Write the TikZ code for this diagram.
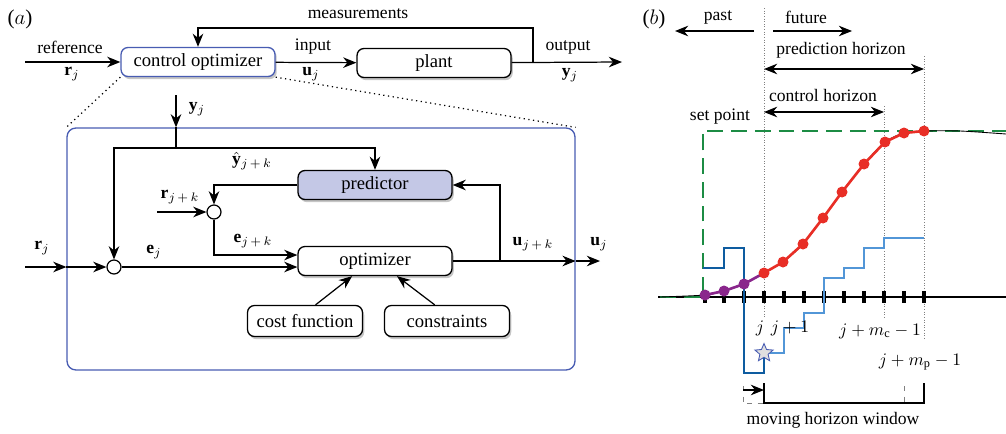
\documentclass[tikz,border=0pt]{standalone}
\usepackage{fontspec}
\setmainfont{Liberation Serif}
\usetikzlibrary{arrows.meta, positioning, shadows, shapes.geometric}

\definecolor{boxblue}{RGB}{72,92,178}
\definecolor{predfill}{RGB}{196,200,230}
\definecolor{setgreen}{RGB}{28,140,68}
\definecolor{predred}{RGB}{232,46,38}
\definecolor{pastpurple}{RGB}{138,38,140}
\definecolor{pastblue}{RGB}{14,92,160}
\definecolor{futblue}{RGB}{82,150,215}

\begin{document}
\begin{tikzpicture}[
    x=0.02cm, y=-0.02cm,
    line width=0.7pt,
    >={Stealth[length=7.5pt, width=6pt, inset=2.4pt]},
    block/.style={draw, line width=0.75pt, rounded corners=4pt, fill=white,
        minimum width=3.08cm, minimum height=0.58cm, inner sep=1pt,
        font=\fontsize{10.6}{12}\selectfont,
        drop shadow={shadow xshift=1pt, shadow yshift=-1.5pt, opacity=0.45}},
    small/.style={minimum width=2.3cm, minimum height=0.62cm},
    sum/.style={draw, circle, fill=white, minimum size=0.28cm, inner sep=0pt},
    lbl/.style={inner sep=1pt},
    tick/.style={line width=1.8pt},
    guide/.style={densely dotted, gray, line width=0.5pt}
]
\useasboundingbox (0,0) rectangle (1006,433);

% ---- (a) block diagram
\node[lbl] (tagA) at (20,19) {\large ($a$)};

\node[block, draw=boxblue, drop shadow={opacity=0}] (ctrl) at (198,62) {control optimizer};
\node[block] (plant) at (434,63) {plant};
\node[draw=boxblue, line width=0.75pt, rounded corners=5pt, minimum width=10.16cm,
      minimum height=4.84cm] (mpc) at (321,249) {};
\node[block, fill=predfill] (pred) at (375,185) {predictor};
\node[block] (opt) at (375,261) {optimizer};
\node[block, small] (cost) at (305,321) {cost function};
\node[block, small, minimum width=2.5cm] (cons) at (447,321) {constraints};
\node[sum] (sumj) at (114,267) {};
\node[sum] (sumk) at (214,212) {};

\coordinate (refin) at (25,62);
\coordinate (outend) at (622,62);
\coordinate (meas) at (533,62);
\coordinate (mtop) at (533,28);
\coordinate (yin) at (176,95);
\coordinate (split) at (176,148);
\coordinate (rkin) at (157,212);
\coordinate (rjin) at (25,267);
\coordinate (ubr) at (500,261);
\coordinate (uout) at (600,261);

\draw[->] (refin) -- (ctrl);
\draw[->] (ctrl) -- (plant);
\draw[->] (plant) -- (outend);
\draw[->] (meas) -- (mtop) -| (ctrl);
\draw[dotted] (ctrl.south west) -- (mpc.north west);
\draw[dotted] (ctrl.south east) -- (mpc.north east);

\draw[->] (yin) -- (yin |- mpc.north);
\draw (yin |- mpc.north) -- (split);
\draw[->] (split) -| (sumj);
\draw[->] (split) -| (pred);
\draw[->] (pred.west) -| (sumk);
\draw[->] (rkin) -- (sumk);
\draw[->] (sumk) |- ([yshift=3.4pt]opt.west);
\draw[->] (rjin) -- (rjin -| mpc.west);
\draw[->] (rjin -| mpc.west) -- (sumj);
\draw[->] (sumj) -- (sumj -| opt.west);
\draw[->] (opt.east) -- (opt.east -| mpc.east);
\draw[->] (opt.east -| mpc.east) -- (uout);
\draw[->] (ubr) |- (pred.east);
\draw[->] ([xshift=6pt]cost.north) -- ([xshift=-13pt]opt.south);
\draw[->] ([xshift=-7pt]cons.north) -- ([xshift=12.5pt]opt.south);

\node[lbl] (lref) at (70,47) {reference};
\node[lbl] (lrj) at (72,74) {$\mathbf{r}_j$};
\node[lbl] (lin) at (313,47) {input};
\node[lbl] (luj) at (311,74) {$\mathbf{u}_j$};
\node[lbl] (lout) at (568,47) {output};
\node[lbl] (lyj) at (570,75) {$\mathbf{y}_j$};
\node[lbl] (lmeas) at (358,14) {measurements};
\node[lbl] (lyin) at (197,109) {$\mathbf{y}_j$};
\node[lbl] (lyhat) at (252,161) {$\hat{\mathbf{y}}_{j\,+\,k}$};
\node[lbl] (lrk) at (180,197) {$\mathbf{r}_{j\,+\,k}$};
\node[lbl] (lek) at (253,241) {$\mathbf{e}_{j\,+\,k}$};
\node[lbl] (lrjin) at (42,248) {$\mathbf{r}_j$};
\node[lbl] (lej) at (154,252) {$\mathbf{e}_j$};
\node[lbl] (luk) at (533,244) {$\mathbf{u}_{j\,+\,k}$};
\node[lbl] (luout) at (599,244) {$\mathbf{u}_j$};

% ---- (b) moving horizon
\node[lbl] (tagB) at (654,19) {\large ($b$)};

\draw[guide] (764,8) -- (764,318);
\draw[guide] (884,106) -- (884,317);
\draw[guide] (924,56) -- (924,340);

\draw[->] (754,31) -- (675,31);
\draw[->] (773,31) -- (852,31);
\node[lbl] (lpast) at (718,17) {past};
\node[lbl] (lfut) at (806,17) {future};
\draw[<->] (764,69) -- (924,69);
\node[lbl] (lph) at (841,50) {prediction horizon};
\draw[<->] (764,112) -- (884,112);
\node[lbl] (lch) at (823,95) {control horizon};
\node[lbl] (lset) at (720,117) {set point};

\draw (658,297) -- (1006,297);
\foreach \t in {705,724,744,764,784,804,824,844,864,884,904,924}
    \draw[tick] (\t,291) -- ++(0,12);

\draw[setgreen, line width=1.5pt, dash pattern=on 9pt off 4.5pt]
    (660,297) -- (703,297) -- (703,131) -- (1006,131);
\draw[line width=0.5pt] plot[smooth] coordinates {(660,297) (705,295) (724,291)
    (744,284) (764,273) (783,262) (803,244) (823,218) (842,192) (864,164)
    (885,142) (904,133) (924,131) (960,131) (1006,134)};

\draw[pastblue, line width=1.5pt] (703,268) -- (724,268) -- (724,248) -- (744,248)
    -- (744,373) -- (764,373) -- (764,353);
\draw[futblue, line width=1.5pt] (764,353) -- (784,353) -- (784,328) -- (804,328)
    -- (804,313) -- (824,313) -- (824,278) -- (844,278) -- (844,268) -- (864,268)
    -- (864,248) -- (884,248) -- (884,238) -- (924,238);

\draw[pastpurple, line width=1.5pt] (705,295) -- (724,291) -- (744,284) -- (764,273);
\foreach \px/\py in {705/295, 724/291, 744/284}
    \fill[pastpurple] (\px,\py) circle[radius=5.5];
\draw[predred, line width=1.5pt] (764,273) -- (783,262) -- (803,244) -- (823,218)
    -- (842,192) -- (864,164) -- (885,142) -- (904,133) -- (924,131);
\foreach \px/\py in {764/273, 783/262, 803/244, 823/218, 842/192, 864/164,
    885/142, 904/133, 924/131}
    \fill[predred] (\px,\py) circle[radius=5.5];

\node[star, star points=5, star point ratio=2.2, draw=boxblue, fill=gray!25,
      line width=0.5pt, minimum size=0.38cm, inner sep=0pt] (now) at (764,353) {};

\node[lbl] (lj) at (760,328) {$j$};
\node[lbl] (lj1) at (790,328) {$j+1$};
\node[lbl] (lmc) at (880,331) {$j+m_{\mathrm{c}}-1$};
\node[lbl] (lmp) at (920,362) {$j+m_{\mathrm{p}}-1$};

\draw[gray, dashed, line width=0.5pt] (743,386) -- (743,403) -- (764,403);
\draw[gray, dashed, line width=0.5pt] (904,386) -- (904,403);
\draw[->] (743,390) -- (764,390);
\draw (764,383) -- (764,403) -- (924,403) -- (924,383);
\node[lbl] (lwin) at (833,420) {moving horizon window};
\end{tikzpicture}
\end{document}
